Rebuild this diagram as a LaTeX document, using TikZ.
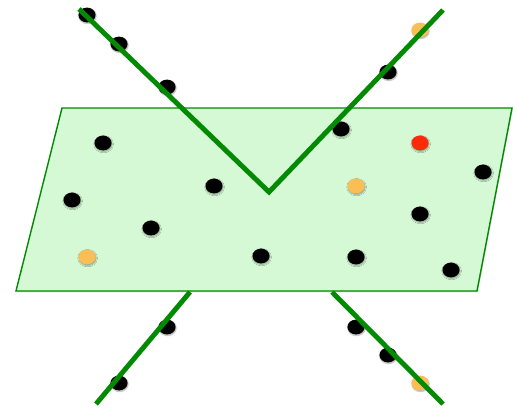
\documentclass[tikz,border=0pt]{standalone}
\usepackage{xcolor}
\definecolor{lineGreen}{HTML}{028A02}
\definecolor{planeFill}{HTML}{D5F8D5}
\definecolor{inlierOrange}{HTML}{FBBE55}
\definecolor{outlierRed}{HTML}{FF2A0A}
\usepackage{tikz}
\usetikzlibrary{shapes.geometric, shadows.blur}

\begin{document}
\begin{tikzpicture}[
  x=0.5mm, y=-0.5mm,
  plane/.style={draw=lineGreen, fill=planeFill, line width=2pt,
    blur shadow={shadow xshift=0.6pt, shadow yshift=-1pt, shadow blur steps=4, shadow opacity=25}},
  fitline/.style={draw=lineGreen, line width=7pt},
  sample/.style={ellipse, fill=black, inner sep=0pt, minimum width=8.6mm, minimum height=7.4mm,
    blur shadow={shadow xshift=0.8pt, shadow yshift=-1.6pt, shadow blur steps=5, shadow opacity=35}},
  hit/.style={sample, fill=inlierOrange},
  miss/.style={sample, fill=outlierRed},
]
  \useasboundingbox (0,0) rectangle (513,410);

  % plane
  \coordinate (plA) at (16,291);
  \coordinate (plB) at (477,291);
  \coordinate (plC) at (512,108);
  \coordinate (plD) at (62,108);
  \path[plane] (plA) -- (plB) -- (plC) -- (plD) -- cycle;

  % samples above the plane
  \node[sample] (a1) at (87,15) {};
  \node[sample] (a2) at (119,44) {};
  \node[sample] (a3) at (167,87) {};
  \node[sample] (a4) at (388,72) {};
  \node[hit] (a5) at (420,30) {};

  % samples on the plane
  \node[sample] (b1) at (103,143) {};
  \node[sample] (b2) at (72,200) {};
  \node[sample] (b3) at (151,228) {};
  \node[hit] (b4) at (87,257) {};
  \node[sample] (b5) at (214,186) {};
  \node[sample] (b6) at (261,256) {};
  \node[sample] (b7) at (341,129) {};
  \node[miss] (b8) at (420,143) {};
  \node[hit] (b9) at (356,186) {};
  \node[sample] (b10) at (483,172) {};
  \node[sample] (b11) at (420,214) {};
  \node[sample] (b12) at (356,257) {};
  \node[sample] (b13) at (451,270) {};

  % samples below the plane
  \node[sample] (c1) at (167,327) {};
  \node[sample] (c2) at (119,383) {};
  \node[sample] (c3) at (356,327) {};
  \node[sample] (c4) at (388,355) {};
  \node[hit] (c5) at (420,383) {};

  % lines
  \coordinate (upL) at (79,9);
  \coordinate (vtx) at (269,192);
  \coordinate (upR) at (443,10);
  \coordinate (loLtop) at (190,292);
  \coordinate (loLend) at (96,404);
  \coordinate (loRtop) at (332,292);
  \coordinate (loRend) at (443,404);
  \draw[fitline] (upL) -- (vtx) -- (upR);
  \draw[fitline] (loLtop) -- (loLend);
  \draw[fitline] (loRtop) -- (loRend);
\end{tikzpicture}
\end{document}
